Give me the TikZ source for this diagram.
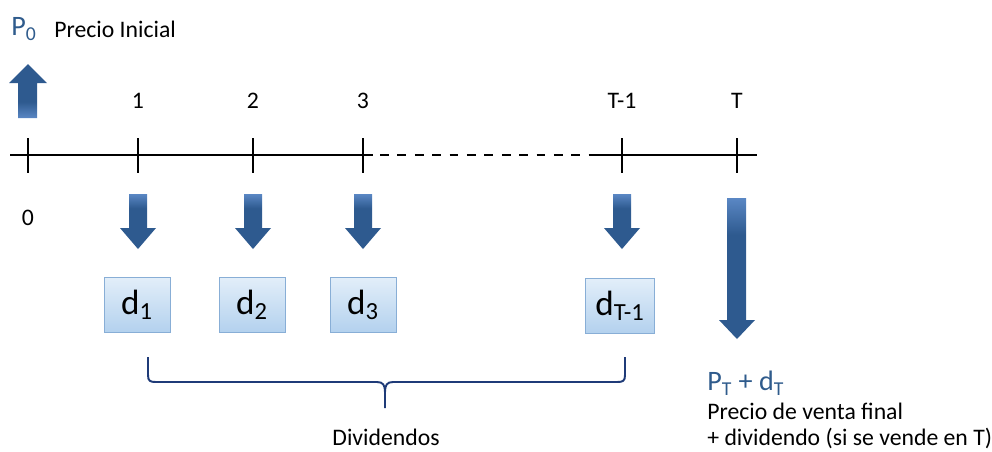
\documentclass[tikz,border=0pt]{standalone}
\usepackage{fontspec}
\setmainfont{Carlito}
\usetikzlibrary{positioning}

\definecolor{arrowdark}{HTML}{2E5A8F}
\definecolor{arrowlight}{HTML}{5A87C4}
\definecolor{textblue}{HTML}{2F5B8C}
\definecolor{boxline}{HTML}{88AED6}
\definecolor{boxtop}{HTML}{E2EEF9}
\definecolor{boxbot}{HTML}{B3D1EE}
\definecolor{bracecol}{HTML}{1F3B78}

\pgfdeclareverticalshading{arrowdown}{100bp}{color(0bp)=(arrowdark); color(25bp)=(arrowdark); color(62bp)=(arrowdark); color(75bp)=(arrowlight); color(100bp)=(arrowlight)}
\pgfdeclareverticalshading{arrowup}{100bp}{color(0bp)=(arrowlight); color(25bp)=(arrowlight); color(40bp)=(arrowdark); color(100bp)=(arrowdark)}

\begin{document}
\begin{tikzpicture}[x=0.02cm, y=-0.02cm,
		tick/.style={line width=1.1pt},
		num/.style={font=\fontsize{13.5}{16}\selectfont},
		note/.style={font=\fontsize{13.5}{16}\selectfont, anchor=west, inner sep=0pt},
		divbox/.style={draw=boxline, top color=boxtop, bottom color=boxbot,
			minimum width=37.4pt, minimum height=31.2pt, inner sep=0pt,
			font=\fontsize{20}{24}\selectfont},
		downarr/.style={shading=arrowdown},
		uparr/.style={shading=arrowup}
	]
					\useasboundingbox (0,0) rectangle (992,451);

					% time axis
					\coordinate (start) at (10,155);
					\coordinate (gapa) at (373,155);
					\coordinate (gapb) at (593,155);
					\coordinate (stop) at (757,155);
					\draw[tick] (start) -- (gapa);
					\draw[tick, dash pattern=on 5pt off 4.9pt] (gapa) ++(7,0) -- (gapb);
					\draw[tick] (gapb) -- (stop);

					\draw[tick] (28,138) -- (28,173);
					\draw[tick] (138,138) -- (138,173);
					\draw[tick] (253,138) -- (253,173);
					\draw[tick] (363,138) -- (363,173);
					\draw[tick] (622,138) -- (622,173);
					\draw[tick] (737,138) -- (737,173);

					\node[num] (n0) at (28,218) {0};
					\node[num] (n1) at (138,101) {1};
					\node[num] (n2) at (253,101) {2};
					\node[num] (n3) at (363,101) {3};
					\node[num] (nT1) at (622,101) {T-1};
					\node[num] (nT) at (737,101) {T};

					% initial price
					\node[font=\fontsize{16}{19}\selectfont, text=textblue, anchor=west, inner sep=0pt] (p0) at (11,29) {P\textsubscript{0}};
					\node[note] (pini) at (54,29) {Precio Inicial};
					\shade[uparr] (18,118) -- (37,118) -- (37,83) -- (47,83) -- (28,64) -- (9,83) -- (18,83) -- cycle;

					% dividend arrows
					\shade[downarr] (129,194) -- (147,194) -- (147,228) -- (156,228) -- (138,249) -- (120,228) -- (129,228) -- cycle;
					\shade[downarr] (244,194) -- (262,194) -- (262,228) -- (271,228) -- (253,249) -- (235,228) -- (244,228) -- cycle;
					\shade[downarr] (354,194) -- (372,194) -- (372,228) -- (381,228) -- (363,249) -- (345,228) -- (354,228) -- cycle;
					\shade[downarr] (613,194) -- (631,194) -- (631,228) -- (640,228) -- (622,249) -- (604,228) -- (613,228) -- cycle;
					\shade[downarr] (727,198) -- (746,198) -- (746,320) -- (755,320) -- (737,339) -- (719,320) -- (727,320) -- cycle;

					\node[divbox] (d1) at (137,305) {d\textsubscript{1}};
					\node[divbox] (d2) at (252,305) {d\textsubscript{2}};
					\node[divbox] (d3) at (363,305) {d\textsubscript{3}};
					\node[divbox, minimum width=39.6pt] (dT1) at (620,306) {d\textsubscript{T-1}};

					% final price
					\node[font=\fontsize{16}{19}\selectfont, text=textblue, anchor=west, inner sep=0pt] (pT) at (707,383) {P\textsubscript{T} + d\textsubscript{T}};
					\node[note] (fin1) at (707,411) {Precio de venta final};
					\node[note] (fin2) at (707,438) {+ dividendo (si se vende en T)};

					% brace
					\draw[bracecol, line width=1.1pt] (148,357) -- (148,375) .. controls (148,381) and (150,382) .. (156,382) -- (377,382) .. controls (383,382) and (385,385) .. (385,392) -- (385,408);
					\draw[bracecol, line width=1.1pt] (625,357) -- (625,375) .. controls (625,381) and (623,382) .. (617,382) -- (393,382) .. controls (387,382) and (385,385) .. (385,392);
					\node[num] (div) at (386,437) {Dividendos};
				\end{tikzpicture}
\end{document}
